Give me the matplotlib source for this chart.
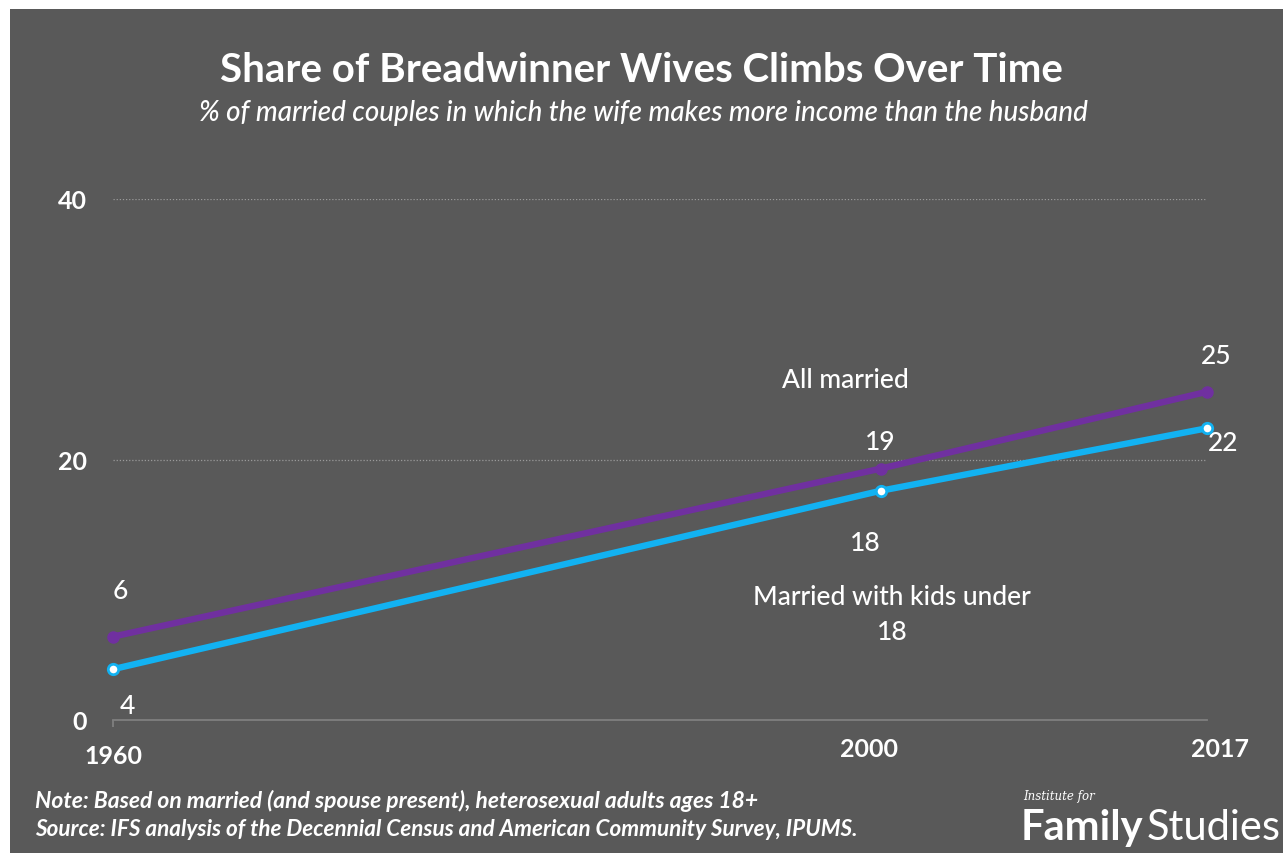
import matplotlib.pyplot as plt
from matplotlib.transforms import ScaledTranslation

years = [1960, 2000, 2017]
all_married = [6.4, 19.3, 25.2]
with_kids = [3.9, 17.6, 22.4]
year_labels = ['1960', '2000', '2017']
y_ticks = [0, 20, 40]

BG = '#595959'
PURPLE = '#7030A0'
BLUE = '#12B2F2'
FONT = 'Lato'

plt.rcParams['font.family'] = [FONT, 'DejaVu Sans']

fig = plt.figure(figsize=(12.83, 8.54), dpi=100)
fig.patch.set_facecolor('white')
# dark panel with a thin white margin on top and left
fig.patches.append(plt.Rectangle((10 / 1283, 0), 1, 1 - 10 / 854, transform=fig.transFigure,
                                 facecolor=BG, edgecolor='none', zorder=-5))

ax = fig.add_axes([113 / 1283, 1 - 721 / 854, (1207 - 113) / 1283, (721 - 200) / 854])
ax.set_zorder(2)
ax.set_facecolor('none')
ax.set_xlim(1960, 2017)
ax.set_ylim(0, 40)
for s in ['top', 'right', 'left']:
    ax.spines[s].set_visible(False)
ax.spines['bottom'].set_color('#7f7f7f')
ax.spines['bottom'].set_linewidth(1.3)

ax.set_yticks(y_ticks)
ax.set_yticklabels([str(t) for t in y_ticks], color='white', fontsize=18, fontweight='bold')
ax.tick_params(axis='y', length=0, pad=19)
ax.set_xticks(years)
ax.set_xticklabels(year_labels, color='white', fontsize=18, fontweight='bold')
ax.tick_params(axis='x', length=5, color='#7f7f7f', width=1.3, pad=7)
# only the first year keeps its little tick mark
for tk in ax.xaxis.get_major_ticks()[1:]:
    tk.tick1line.set_visible(False)
shifts = [(0, -7), (-12, 0), (13, 0)]
for lab, (dx, dy) in zip(ax.get_xticklabels(), shifts):
    lab.set_transform(lab.get_transform() + ScaledTranslation(dx / 100, dy / 100, fig.dpi_scale_trans))

for t in y_ticks[1:]:
    ax.axhline(t, color='#9a9a9a', lw=0.9, ls=(0, (1, 1.5)), zorder=1)

ax.plot(years, all_married, color=PURPLE, lw=4.6, marker='o', ms=8,
        mfc=PURPLE, mec=PURPLE, clip_on=False, zorder=3)
ax.plot(years, with_kids, color=BLUE, lw=4.6, marker='o', ms=7.5,
        mfc='white', mec=BLUE, mew=2, clip_on=False, zorder=4)

lab_kw = dict(color='white', fontsize=19, fontweight='medium', ha='center', va='center')
off_top = [(7, 46), (0, 27), (9, 36)]
for x, v, (dx, dy) in zip(years, all_married, off_top):
    ax.annotate(f'{v:.0f}', (x, v), xytext=(dx, dy), textcoords='offset pixels', **lab_kw)
off_bot = [(14, -36), (-15, -52), (16, -14)]
for x, v, (dx, dy) in zip(years, with_kids, off_bot):
    ax.annotate(f'{v:.0f}', (x, v), xytext=(dx, dy), textcoords='offset pixels', **lab_kw)

fig.text(845 / 1283, 1 - 380 / 854, 'All married', **lab_kw)
fig.text(892 / 1283, 1 - 615 / 854, 'Married with kids under\n18', linespacing=1.5, **lab_kw)

fig.text(641 / 1283, 1 - 70 / 854, 'Share of Breadwinner Wives Climbs Over Time',
         color='white', fontsize=29, fontweight='bold', ha='center', va='center')
fig.text(643 / 1283, 1 - 113 / 854, '% of married couples in which the wife makes more income than the husband',
         color='white', fontsize=20, fontweight='medium', style='italic', ha='center', va='center')

fig.text(35 / 1283, 1 - 801 / 854, 'Note: Based on married (and spouse present), heterosexual adults ages 18+',
         color='white', fontsize=16.5, fontweight='bold', style='italic', va='center')
fig.text(35 / 1283, 1 - 830 / 854, 'Source: IFS analysis of the Decennial Census and American Community Survey, IPUMS.',
         color='white', fontsize=16.2, fontweight='bold', style='italic', va='center')

fig.text(1023 / 1283, 1 - 797 / 854, 'Institute for', color='white', fontsize=8.5,
         family='DejaVu Serif', style='italic', va='center')
fam = fig.text(1021 / 1283, 1 - 828 / 854, 'Family', color='white', fontsize=30,
               fontweight='bold', va='center')
fig.canvas.draw()
bb = fam.get_window_extent()
fig.text((bb.x1 + 3) / 1283, 1 - 828 / 854, 'Studies', color='white', fontsize=30,
         fontweight='normal', va='center')

fig.savefig('out.png', dpi=100, facecolor=fig.get_facecolor())
